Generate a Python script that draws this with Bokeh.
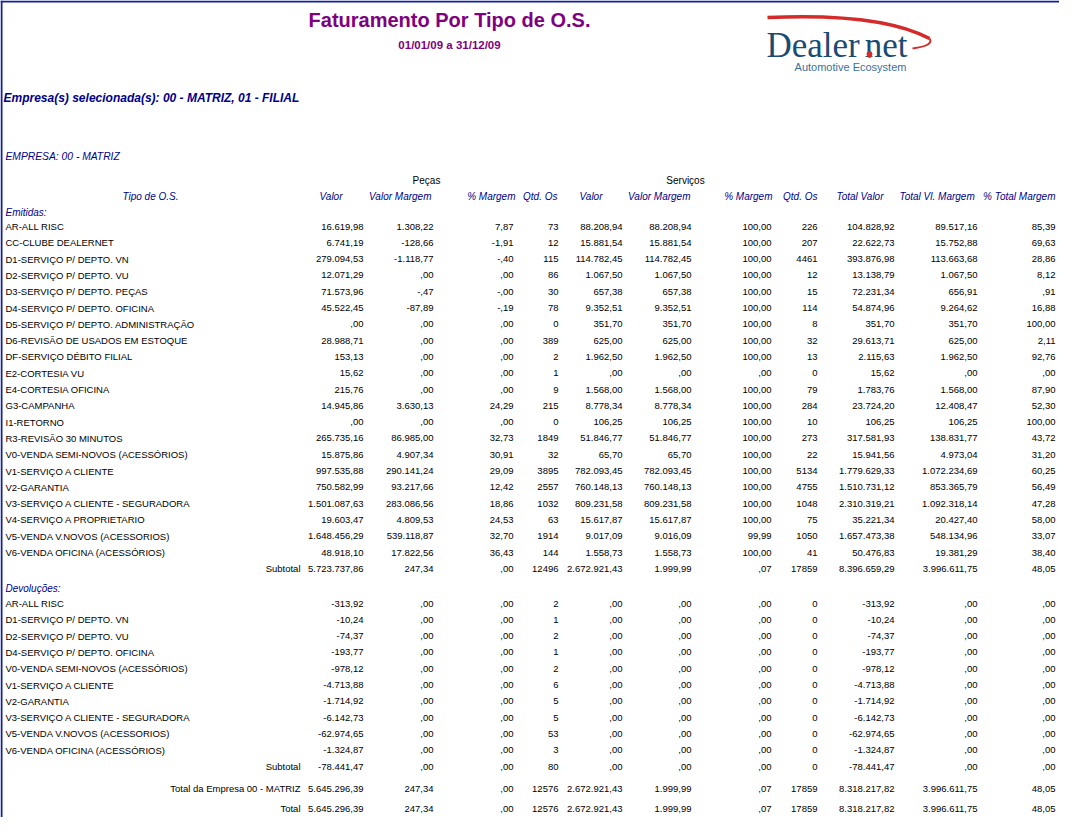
import math
from bokeh.plotting import figure
from bokeh.models import ColumnDataSource, Range1d
from bokeh.core.properties import value
from bokeh.embed import file_html
from bokeh.resources import INLINE

# ---------------- data ----------------
col_headers = ["Valor", "Valor Margem", "% Margem", "Qtd. Os",
               "Valor", "Valor Margem", "% Margem", "Qtd. Os",
               "Total Valor", "Total  Vl. Margem", "% Total Margem"]
col_kinds = ["m", "m", "m", "i", "m", "m", "m", "i", "m", "m", "m"]

em_labels = ["AR-ALL RISC", "CC-CLUBE DEALERNET", "D1-SERVIÇO P/ DEPTO. VN",
             "D2-SERVIÇO P/ DEPTO. VU", "D3-SERVIÇO P/ DEPTO. PEÇAS",
             "D4-SERVIÇO P/ DEPTO. OFICINA", "D5-SERVIÇO P/ DEPTO. ADMINISTRAÇÃO",
             "D6-REVISÃO DE USADOS EM ESTOQUE", "DF-SERVIÇO DÉBITO FILIAL",
             "E2-CORTESIA VU", "E4-CORTESIA OFICINA", "G3-CAMPANHA", "I1-RETORNO",
             "R3-REVISÃO 30 MINUTOS", "V0-VENDA SEMI-NOVOS (ACESSÓRIOS)",
             "V1-SERVIÇO A CLIENTE", "V2-GARANTIA", "V3-SERVIÇO A CLIENTE - SEGURADORA",
             "V4-SERVIÇO A PROPRIETARIO", "V5-VENDA V.NOVOS (ACESSORIOS)",
             "V6-VENDA OFICINA (ACESSÓRIOS)"]
em_pecas_valor = [16619.98, 6741.19, 279094.53, 12071.29, 71573.96, 45522.45, 0.0, 28988.71,
                  153.13, 15.62, 215.76, 14945.86, 0.0, 265735.16, 15875.86, 997535.88,
                  750582.99, 1501087.63, 19603.47, 1648456.29, 48918.10]
em_pecas_margem = [1308.22, -128.66, -1118.77, 0.0, -0.47, -87.89, 0.0, 0.0, 0.0, 0.0, 0.0,
                   3630.13, 0.0, 86985.00, 4907.34, 290141.24, 93217.66, 283086.56, 4809.53,
                   539118.87, 17822.56]
em_pecas_pct = [7.87, -1.91, -0.40, 0.0, -0.0, -0.19, 0.0, 0.0, 0.0, 0.0, 0.0, 24.29, 0.0,
                32.73, 30.91, 29.09, 12.42, 18.86, 24.53, 32.70, 36.43]
em_pecas_qtd = [73, 12, 115, 86, 30, 78, 0, 389, 2, 1, 9, 215, 0, 1849, 32, 3895, 2557, 1032,
                63, 1914, 144]
em_serv_valor = [88208.94, 15881.54, 114782.45, 1067.50, 657.38, 9352.51, 351.70, 625.00,
                 1962.50, 0.0, 1568.00, 8778.34, 106.25, 51846.77, 65.70, 782093.45, 760148.13,
                 809231.58, 15617.87, 9017.09, 1558.73]
em_serv_margem = [88208.94, 15881.54, 114782.45, 1067.50, 657.38, 9352.51, 351.70, 625.00,
                  1962.50, 0.0, 1568.00, 8778.34, 106.25, 51846.77, 65.70, 782093.45, 760148.13,
                  809231.58, 15617.87, 9016.09, 1558.73]
em_serv_pct = [100.0, 100.0, 100.0, 100.0, 100.0, 100.0, 100.0, 100.0, 100.0, 0.0, 100.0, 100.0,
               100.0, 100.0, 100.0, 100.0, 100.0, 100.0, 100.0, 99.99, 100.0]
em_serv_qtd = [226, 207, 4461, 12, 15, 114, 8, 32, 13, 0, 79, 284, 10, 273, 22, 5134, 4755,
               1048, 75, 1050, 41]
em_tot_valor = [104828.92, 22622.73, 393876.98, 13138.79, 72231.34, 54874.96, 351.70, 29613.71,
                2115.63, 15.62, 1783.76, 23724.20, 106.25, 317581.93, 15941.56, 1779629.33,
                1510731.12, 2310319.21, 35221.34, 1657473.38, 50476.83]
em_tot_margem = [89517.16, 15752.88, 113663.68, 1067.50, 656.91, 9264.62, 351.70, 625.00,
                 1962.50, 0.0, 1568.00, 12408.47, 106.25, 138831.77, 4973.04, 1072234.69,
                 853365.79, 1092318.14, 20427.40, 548134.96, 19381.29]
em_tot_pct = [85.39, 69.63, 28.86, 8.12, 0.91, 16.88, 100.00, 2.11, 92.76, 0.0, 87.90, 52.30,
              100.00, 43.72, 31.20, 60.25, 56.49, 47.28, 58.00, 33.07, 38.40]

dev_labels = ["AR-ALL RISC", "D1-SERVIÇO P/ DEPTO. VN", "D2-SERVIÇO P/ DEPTO. VU",
              "D4-SERVIÇO P/ DEPTO. OFICINA", "V0-VENDA SEMI-NOVOS (ACESSÓRIOS)",
              "V1-SERVIÇO A CLIENTE", "V2-GARANTIA", "V3-SERVIÇO A CLIENTE - SEGURADORA",
              "V5-VENDA V.NOVOS (ACESSORIOS)", "V6-VENDA OFICINA (ACESSÓRIOS)"]
dev_pecas_valor = [-313.92, -10.24, -74.37, -193.77, -978.12, -4713.88, -1714.92, -6142.73,
                   -62974.65, -1324.87]
dev_pecas_margem = [0.0, 0.0, 0.0, 0.0, 0.0, 0.0, 0.0, 0.0, 0.0, 0.0]
dev_pecas_pct = [0.0, 0.0, 0.0, 0.0, 0.0, 0.0, 0.0, 0.0, 0.0, 0.0]
dev_pecas_qtd = [2, 1, 2, 1, 2, 6, 5, 5, 53, 3]
dev_serv_valor = [0.0, 0.0, 0.0, 0.0, 0.0, 0.0, 0.0, 0.0, 0.0, 0.0]
dev_serv_margem = [0.0, 0.0, 0.0, 0.0, 0.0, 0.0, 0.0, 0.0, 0.0, 0.0]
dev_serv_pct = [0.0, 0.0, 0.0, 0.0, 0.0, 0.0, 0.0, 0.0, 0.0, 0.0]
dev_serv_qtd = [0, 0, 0, 0, 0, 0, 0, 0, 0, 0]
dev_tot_valor = [-313.92, -10.24, -74.37, -193.77, -978.12, -4713.88, -1714.92, -6142.73,
                 -62974.65, -1324.87]
dev_tot_margem = [0.0, 0.0, 0.0, 0.0, 0.0, 0.0, 0.0, 0.0, 0.0, 0.0]
dev_tot_pct = [0.0, 0.0, 0.0, 0.0, 0.0, 0.0, 0.0, 0.0, 0.0, 0.0]

sub_em = [5723737.86, 247.34, 0.0, 12496, 2672921.43, 1999.99, 0.07, 17859, 8396659.29,
          3996611.75, 48.05]
sub_dev = [-78441.47, 0.0, 0.0, 80, 0.0, 0.0, 0.0, 0, -78441.47, 0.0, 0.0]
tot_empresa = [5645296.39, 247.34, 0.0, 12576, 2672921.43, 1999.99, 0.07, 17859, 8318217.82,
               3996611.75, 48.05]
tot_geral = [5645296.39, 247.34, 0.0, 12576, 2672921.43, 1999.99, 0.07, 17859, 8318217.82,
             3996611.75, 48.05]

# ---------------- layout / style ----------------
FONT = value("Liberation Sans")
NAVY = "#00008B"
PURPLE = "#800080"
COL_RIGHT = [363, 433, 513, 558, 622, 691, 771, 817, 894, 977, 1055]
HDR_RIGHT = [342, 431, 515, 557, 602, 690, 772, 817, 883, 977, 1055]
STEP = 16.3
Y_EM0 = 226
Y_DEV0 = 603


def br(v, kind):
    if kind == "i":
        return str(int(v))
    neg = v < 0 or (v == 0 and math.copysign(1, v) < 0)
    s = f"{abs(v):,.2f}".replace(",", "X").replace(".", ",").replace("X", ".")
    if s.startswith("0,"):
        s = s[1:]
    return ("-" if neg else "") + s


em_cols = [em_pecas_valor, em_pecas_margem, em_pecas_pct, em_pecas_qtd, em_serv_valor,
           em_serv_margem, em_serv_pct, em_serv_qtd, em_tot_valor, em_tot_margem, em_tot_pct]
dev_cols = [dev_pecas_valor, dev_pecas_margem, dev_pecas_pct, dev_pecas_qtd, dev_serv_valor,
            dev_serv_margem, dev_serv_pct, dev_serv_qtd, dev_tot_valor, dev_tot_margem,
            dev_tot_pct]

em_y = [Y_EM0 + STEP * i for i in range(len(em_labels))]
dev_y = [Y_DEV0 + STEP * i for i in range(len(dev_labels))]
y_sub_em = Y_EM0 + STEP * len(em_labels)
y_sub_dev = Y_DEV0 + STEP * len(dev_labels)
y_tot_emp = 788
y_tot_ger = 808

W, H = 1059, 817
p = figure(width=W, height=H, x_range=Range1d(0, W), y_range=Range1d(H, 0),
           output_backend="svg", toolbar_location=None, min_border=0,
           x_axis_type=None, y_axis_type=None)
p.grid.visible = False
p.outline_line_color = None
p.background_fill_color = "white"
p.border_fill_color = "white"

# viewer frame (left and top edges)
p.segment(x0=[1, 0], y0=[0, 1], x1=[1, W], y1=[H, 1], line_color="#1020a0", line_width=2)


def txt(x, y, t, size="9.5px", color="black", align="left", style="normal", font=FONT,
        baseline="middle"):
    p.text(x=x, y=y, text=t, text_font=font, text_font_size=size, text_color=color,
           text_align=align, text_baseline=baseline, text_font_style=style)


# header
txt([449], [19], ["Faturamento Por Tipo de O.S."], size="20px", color=PURPLE,
    align="center", style="bold")
txt([449], [44], ["01/01/09 a 31/12/09"], size="11.5px", color=PURPLE, align="center",
    style="bold")
txt([3], [97], ["Empresa(s) selecionada(s): 00 - MATRIZ, 01 - FILIAL"], size="12px",
    color=NAVY, style="bold italic")
txt([5], [156], ["EMPRESA: 00 - MATRIZ"], size="10.3px", color=NAVY, style="italic")

# logo
RED = "#d42a2a"
p.quadratic(x0=[767], y0=[17], x1=[929], y1=[38], cx=[880], cy=[12],
            line_color=RED, line_width=3.5)
p.quadratic(x0=[929], y0=[38], x1=[912], y1=[48], cx=[934], cy=[45],
            line_color=RED, line_width=2)
SERIF = value("Liberation Serif")
txt([766], [45], ["Dealer"], size="35px", color="#1b4b72", font=SERIF)
txt([907], [45], ["net"], size="35px", color="#1b4b72", font=SERIF, align="right")
txt([869], [45], ["."], size="35px", color=RED, font=SERIF, align="center")
p.scatter(x=[869], y=[53.5], size=5, marker="circle", fill_color=RED, line_color=RED)
txt([850], [66], ["Automotive Ecosystem"], size="11px", color="#3b6fa0", align="center")

# group headers
txt([426], [180], ["Peças"], size="10px", align="center")
txt([685], [180], ["Serviços"], size="10px", align="center")
txt([150], [196], ["Tipo de O.S."], size="10px", color=NAVY, align="center", style="italic")
src_h = ColumnDataSource(dict(x=HDR_RIGHT, y=[196] * len(HDR_RIGHT), t=col_headers))
p.text(x="x", y="y", text="t", source=src_h, text_font=FONT, text_font_size="10px",
       text_color=NAVY, text_align="right", text_baseline="middle", text_font_style="italic")

# section labels
txt([5], [212], ["Emitidas:"], size="10px", color=NAVY, style="italic")
txt([5], [588], ["Devoluções:"], size="10px", color=NAVY, style="italic")

# row labels
txt([5] * len(em_labels), em_y, em_labels)
txt([5] * len(dev_labels), dev_y, dev_labels)
txt([300, 300, 300, 300], [y_sub_em, y_sub_dev, y_tot_emp, y_tot_ger],
    ["Subtotal", "Subtotal", "Total da Empresa 00 - MATRIZ", "Total"], align="right")

# numeric columns
for j in range(len(col_kinds)):
    ys = em_y + [y_sub_em] + dev_y + [y_sub_dev, y_tot_emp, y_tot_ger]
    vals = em_cols[j] + [sub_em[j]] + dev_cols[j] + [sub_dev[j], tot_empresa[j], tot_geral[j]]
    src = ColumnDataSource(dict(x=[COL_RIGHT[j]] * len(ys), y=ys,
                                t=[br(v, col_kinds[j]) for v in vals]))
    p.text(x="x", y="y", text="t", source=src, text_font=FONT, text_font_size="9.5px",
           text_color="black", text_align="right", text_baseline="middle")

open("out.html", "w").write(file_html(p, INLINE))
